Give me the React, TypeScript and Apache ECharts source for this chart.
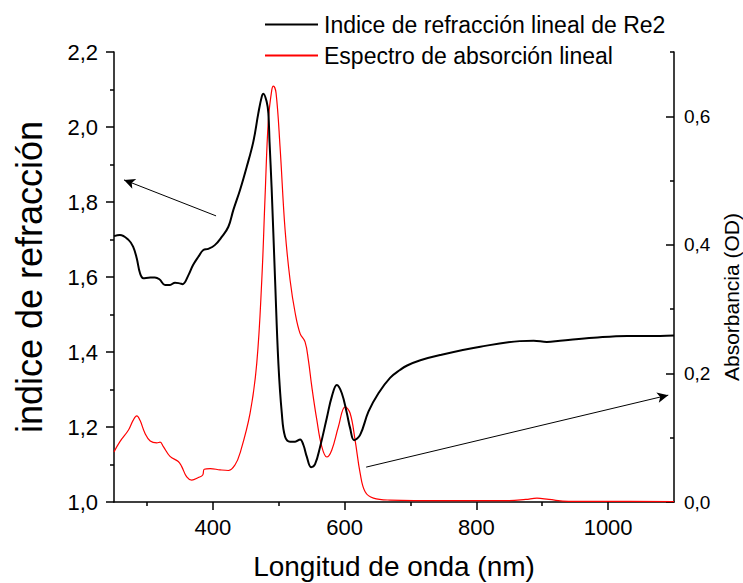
import React, { useEffect, useRef } from "react";
import * as echarts from "echarts";

// Refractive index curve (black, left axis)
const nmIndex = [250, 259, 272, 279, 284.5, 289.5, 294.5, 302, 312, 319, 327.5, 335, 342.6, 350, 354, 363, 370, 378, 385.6, 393, 403, 413.6, 423.6, 431.2, 441.3, 451.5, 461.5, 469.1, 474.3, 476.7, 481.9, 484.3, 486.1, 489.2, 494.5, 499.5, 504.7, 509.7, 517.3, 524.9, 532.5, 537.5, 542.6, 549.2, 555.2, 562.8, 573, 580.6, 588.2, 595.8, 603.4, 608.4, 614.5, 623.6, 636.2, 651.4, 669, 684, 695, 715, 745, 806, 866, 887, 907, 927, 978, 1029, 1079, 1100];
const refractiveIndex = [1.709, 1.712, 1.699, 1.681, 1.65, 1.61, 1.597, 1.598, 1.599, 1.594, 1.579, 1.579, 1.585, 1.583, 1.581, 1.605, 1.632, 1.654, 1.672, 1.675, 1.685, 1.707, 1.734, 1.779, 1.832, 1.894, 1.961, 2.037, 2.081, 2.089, 2.066, 2.037, 1.96, 1.84, 1.592, 1.37, 1.237, 1.174, 1.161, 1.161, 1.167, 1.152, 1.121, 1.093, 1.101, 1.147, 1.224, 1.281, 1.312, 1.29, 1.237, 1.197, 1.165, 1.179, 1.241, 1.29, 1.331, 1.352, 1.364, 1.378, 1.392, 1.414, 1.429, 1.43, 1.427, 1.43, 1.438, 1.443, 1.443, 1.444];

// Absorption spectrum (red, right axis)
const nmAbs = [250, 259, 272, 279, 284.5, 289.5, 297, 305, 315, 320, 325, 335, 347.6, 352.8, 360.4, 368, 378, 384.7, 387, 396, 411, 423.6, 433.8, 441.3, 456.5, 466.7, 474.3, 479.3, 484.3, 489.5, 492, 496, 502, 509.7, 517.3, 525, 532.5, 540, 545, 550.3, 557.8, 565.4, 573, 580.6, 590.6, 600.8, 608.4, 616, 623.6, 631.2, 643.8, 669, 750, 850, 875, 892, 910, 940, 1000, 1100];
const absorbance = [0.078, 0.094, 0.112, 0.127, 0.134, 0.127, 0.107, 0.095, 0.092, 0.093, 0.086, 0.071, 0.063, 0.055, 0.039, 0.034, 0.038, 0.042, 0.051, 0.052, 0.05, 0.049, 0.058, 0.076, 0.138, 0.216, 0.345, 0.475, 0.594, 0.641, 0.647, 0.636, 0.553, 0.423, 0.345, 0.294, 0.262, 0.249, 0.221, 0.179, 0.128, 0.086, 0.07, 0.081, 0.117, 0.148, 0.138, 0.096, 0.045, 0.016, 0.006, 0.003, 0.002, 0.002, 0.004, 0.006, 0.004, 0.001, 0.001, 0.0005];

// Tick values
const xMajorTicks = [400, 600, 800, 1000];
const xMinorTicks = [300, 500, 700, 900];
const rightMajorTicks = [0, 0.2, 0.4, 0.6];
const rightMinorTicks = [0.1, 0.3, 0.5, 0.7];

// Annotation arrows (data coords on left axis)
const arrowLeft = [[404.9, 1.763], [265.2, 1.859]];
const arrowRight = [[632.7, 1.093], [1091.3, 1.285]];

const seriesNames = ["Indice de refracción lineal de Re2", "Espectro de absorción lineal"];

const FONT = "'Liberation Sans', Arial, sans-serif";
const comma = (v: number) => v.toFixed(1).replace(".", ",");

export default function App() {
  const ref = useRef<HTMLDivElement>(null);
  useEffect(() => {
    if (!ref.current) return;
    const chart = echarts.init(ref.current, undefined, { renderer: "svg" });
    const axisLine = { show: true, lineStyle: { color: "#000", width: 1.5 } };
    chart.setOption({
      animation: false,
      backgroundColor: "#fff",
      textStyle: { fontFamily: FONT },
      grid: { left: 114, right: 69, top: 52, bottom: 81, containLabel: false, outerBoundsMode: "none" },
      legend: {
        orient: "vertical",
        left: 260,
        top: 7,
        icon: "rect",
        itemWidth: 53,
        itemHeight: 2,
        itemGap: 6,
        data: seriesNames,
        textStyle: { fontSize: 23, color: "#000", fontFamily: FONT, lineHeight: 25, padding: [0, 0, 0, 1] },
      },
      xAxis: [
        {
          type: "value",
          min: 250,
          max: 1100,
          name: "Longitud de onda (nm)",
          nameLocation: "middle",
          nameGap: 50,
          nameTextStyle: { fontSize: 28, color: "#000", fontFamily: FONT },
          axisLine,
          axisTick: { show: true, length: 8, customValues: xMajorTicks, lineStyle: { color: "#000", width: 1.5 } },
          axisLabel: { customValues: xMajorTicks, formatter: (v: number) => String(v), fontSize: 22, color: "#000", margin: 14, fontFamily: FONT },
          splitLine: { show: false },
        },
        {
          type: "value",
          min: 250,
          max: 1100,
          position: "bottom",
          axisLine: { show: false },
          axisTick: { show: true, length: 4, customValues: xMinorTicks, lineStyle: { color: "#000", width: 1.5 } },
          axisLabel: { show: false },
          splitLine: { show: false },
        },
      ],
      yAxis: [
        {
          type: "value",
          position: "left",
          min: 1.0,
          max: 2.2,
          interval: 0.2,
          name: "indice de refracción",
          nameLocation: "middle",
          nameRotate: 90,
          nameGap: 67,
          nameTextStyle: { fontSize: 36, color: "#000", fontFamily: FONT },
          axisLine,
          axisTick: { show: true, length: 8, lineStyle: { color: "#000", width: 1.5 } },
          minorTick: { show: true, splitNumber: 2, length: 4, lineStyle: { color: "#000", width: 1.5 } },
          axisLabel: { formatter: comma, fontSize: 22, color: "#000", margin: 16, fontFamily: FONT },
          splitLine: { show: false },
        },
        {
          type: "value",
          position: "right",
          offset: 0,
          min: 0,
          max: 0.7,
          name: "Absorbancia (OD)",
          nameLocation: "middle",
          nameRotate: 90,
          nameGap: 40,
          nameTextStyle: { fontSize: 21, color: "#000", fontFamily: FONT, padding: [0, 40, 0, 0] },
          axisLine,
          axisTick: { show: true, inside: true, length: 8, customValues: rightMajorTicks, lineStyle: { color: "#000", width: 1.5 } },
          axisLabel: { customValues: rightMajorTicks, formatter: comma, fontSize: 19, color: "#000", margin: 10, fontFamily: FONT },
          splitLine: { show: false },
        },
        {
          type: "value",
          position: "right",
          offset: 0,
          min: 0,
          max: 0.7,
          axisLine: { show: false },
          axisTick: { show: true, inside: true, length: 4, customValues: rightMinorTicks, lineStyle: { color: "#000", width: 1.5 } },
          axisLabel: { show: false },
          splitLine: { show: false },
        },
      ],
      series: [
        {
          name: seriesNames[0],
          type: "line",
          xAxisIndex: 0,
          yAxisIndex: 0,
          symbol: "none",
          smooth: 0.4,
          lineStyle: { color: "#000", width: 2 },
          itemStyle: { color: "#000" },
          data: nmIndex.map((x, i) => [x, refractiveIndex[i]]),
          z: 3,
          markLine: {
            silent: true,
            symbol: ["none", "arrow"],
            symbolSize: [8, 11],
            label: { show: false },
            lineStyle: { color: "#000", width: 1, type: "solid" },
            data: [
              [{ coord: arrowLeft[0] }, { coord: arrowLeft[1] }],
              [{ coord: arrowRight[0] }, { coord: arrowRight[1] }],
            ],
          },
        },
        {
          name: seriesNames[1],
          type: "line",
          xAxisIndex: 0,
          yAxisIndex: 1,
          symbol: "none",
          smooth: 0.4,
          lineStyle: { color: "#ff0000", width: 1.2 },
          itemStyle: { color: "#ff0000" },
          data: nmAbs.map((x, i) => [x, absorbance[i]]),
          z: 2,
        },
      ],
    });
    return () => chart.dispose();
  }, []);
  return <div ref={ref} style={{ position: "fixed", left: 0, top: 0, width: 743, height: 583 }} />;
}
